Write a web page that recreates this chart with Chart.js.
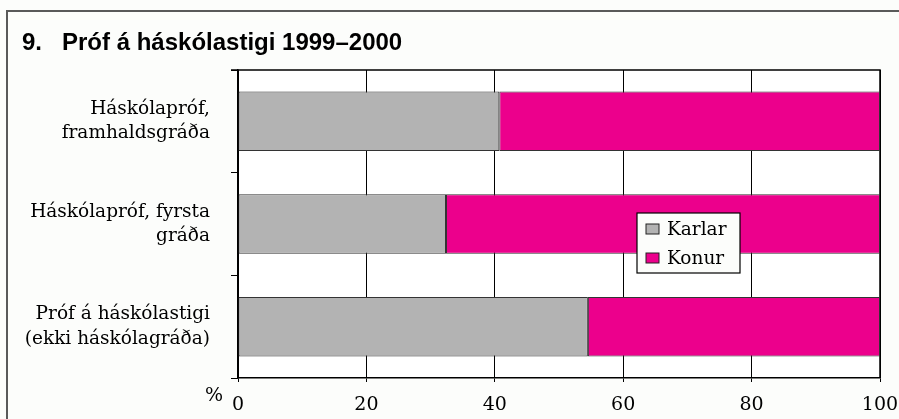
<!DOCTYPE html>
<html>
<head>
<meta charset="utf-8">
<script src="https://cdn.jsdelivr.net/npm/chart.js@4.4.0/dist/chart.umd.min.js"></script>
<style>
html,body{margin:0;padding:0;background:#fcfdfb;}
#wrap{width:899px;height:419px;position:relative;}
</style>
</head>
<body>
<div id="wrap"><canvas id="c" width="899" height="419"></canvas></div>
<script>
const titleNumber = "9.";
const titleText = "Próf á háskólastigi 1999–2000";
const categories = [
  ["Háskólapróf,", "framhaldsgráða"],
  ["Háskólapróf, fyrsta", "gráða"],
  ["Próf á háskólastigi", "(ekki háskólagráða)"]
];
const seriesNames = ["Karlar", "Konur"];
const karlar = [40.7, 32.4, 54.5];
const konur = [59.3, 67.6, 45.5];
const xTicks = [0, 20, 40, 60, 80, 100];
const colors = ["#b3b3b3", "#ec008c"];

const SERIF = "'DejaVu Serif', serif";

const framePlugin = {
  id: 'frame',
  beforeDraw(chart) {
    const ctx = chart.ctx;
    ctx.save();
    ctx.fillStyle = '#fcfdfb';
    ctx.fillRect(0, 0, chart.width, chart.height);
    ctx.strokeStyle = '#5a5a5a';
    ctx.lineWidth = 2;
    ctx.beginPath();
    ctx.moveTo(7, chart.height);
    ctx.lineTo(7, 11);
    ctx.lineTo(chart.width, 11);
    ctx.stroke();
    ctx.fillStyle = '#000';
    ctx.font = "bold 24px 'Liberation Sans', Arial, sans-serif";
    ctx.textBaseline = 'alphabetic';
    ctx.textAlign = 'left';
    ctx.fillText(titleNumber, 22, 50);
    ctx.fillText(titleText, 62, 50);
    const a = chart.chartArea;
    ctx.fillStyle = '#ffffff';
    ctx.fillRect(a.left, a.top, a.right - a.left, a.bottom - a.top);
    ctx.restore();
  },
  beforeDatasetsDraw(chart) {
    const ctx = chart.ctx;
    const a = chart.chartArea;
    ctx.save();
    ctx.strokeStyle = '#000';
    ctx.lineWidth = 1.5;
    ctx.beginPath();
    ctx.moveTo(a.left - 7, a.top);
    ctx.lineTo(a.right, a.top);
    ctx.lineTo(a.right, a.bottom);
    ctx.stroke();
    ctx.restore();
  },
  afterDraw(chart) {
    const ctx = chart.ctx;
    const a = chart.chartArea;
    ctx.save();
    ctx.fillStyle = '#000';
    ctx.font = "19px " + SERIF;
    ctx.textAlign = 'center';
    ctx.textBaseline = 'middle';
    ctx.fillText('%', a.left - 24, a.bottom + 18);
    // legend
    const lx = 637, ly = 213, lw = 103, lh = 60;
    ctx.fillStyle = '#fcfdfb';
    ctx.fillRect(lx, ly, lw, lh);
    ctx.strokeStyle = '#000';
    ctx.lineWidth = 1.2;
    ctx.strokeRect(lx, ly, lw, lh);
    chart.data.datasets.forEach((ds, i) => {
      const cy = ly + 16 + i * 29;
      ctx.fillStyle = ds.backgroundColor;
      ctx.fillRect(646, cy - 5, 13, 10);
      ctx.strokeStyle = '#222';
      ctx.lineWidth = 1;
      ctx.strokeRect(646, cy - 5, 13, 10);
      ctx.fillStyle = '#000';
      ctx.font = "18.5px " + SERIF;
      ctx.textAlign = 'left';
      ctx.textBaseline = 'middle';
      ctx.fillText(ds.label, 667, cy + 1);
    });
    ctx.restore();
  }
};

new Chart(document.getElementById('c'), {
  type: 'bar',
  data: {
    labels: categories,
    datasets: [
      { label: seriesNames[0], data: karlar, backgroundColor: colors[0], borderColor: '#333', borderWidth: 1, borderSkipped: false },
      { label: seriesNames[1], data: konur, backgroundColor: colors[1], borderColor: '#333', borderWidth: 1, borderSkipped: false }
    ]
  },
  options: {
    indexAxis: 'y',
    responsive: false,
    animation: false,
    layout: { padding: { left: 0, top: 70, right: 19, bottom: 0 } },
    plugins: { legend: { display: false }, title: { display: false }, tooltip: { enabled: false } },
    datasets: { bar: { barPercentage: 0.58, categoryPercentage: 1 } },
    scales: {
      x: {
        stacked: true,
        min: 0, max: 100,
        afterBuildTicks(scale) { scale.ticks = xTicks.map(v => ({ value: v })); },
        afterFit(scale) { scale.height = 41; scale.paddingLeft = 0; scale.paddingRight = 0; },
        grid: { color: '#000', lineWidth: 1, tickLength: 4, drawOnChartArea: true },
        border: { color: '#000', width: 1.5 },
        ticks: { color: '#000', font: { family: SERIF, size: 19 }, padding: 12, maxRotation: 0 }
      },
      y: {
        stacked: true,
        afterFit(scale) { scale.width = 238; scale.paddingTop = 0; scale.paddingBottom = 0; },
        grid: { color: '#000', lineWidth: 1, tickLength: 7, drawOnChartArea: false, offset: true },
        border: { color: '#000', width: 1.5 },
        ticks: { color: '#000', font: { family: SERIF, size: 18.5, lineHeight: 1.3 }, padding: 21 }
      }
    }
  },
  plugins: [framePlugin]
});
</script>
</body>
</html>
